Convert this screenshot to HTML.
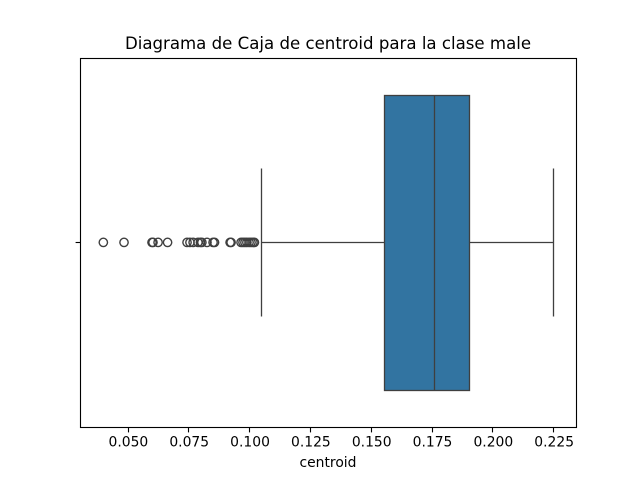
<!DOCTYPE html>
<html><head><meta charset="utf-8"><style>
html,body{margin:0;padding:0;background:#fff;width:640px;height:480px;overflow:hidden}
svg{display:block}
text{font-family:"DejaVu Sans",sans-serif;fill:#000}
</style></head>
<body>
<svg id="chart" width="640" height="480" viewBox="0 0 640 480" xmlns="http://www.w3.org/2000/svg">
<text x="328" y="49" font-size="16.6" text-anchor="middle">Diagrama de Caja de centroid para la clase male</text>
<text x="328" y="467" font-size="13.89" text-anchor="middle">centroid</text>
<g id="marks"></g>
<g id="axes"></g>
</svg>
<script>
const tickValues = [0.05, 0.075, 0.1, 0.125, 0.15, 0.175, 0.2, 0.225];
const tickLabels = ['0.050', '0.075', '0.100', '0.125', '0.150', '0.175', '0.200', '0.225'];
const q1 = [0.1552];
const median = [0.1758];
const q3 = [0.1902];
const whiskerLow = [0.1047];
const whiskerHigh = [0.2247];
const outliers = [0.0397, 0.0482, 0.0597, 0.0601, 0.0622, 0.0661, 0.0741, 0.0753, 0.0766, 0.0786, 0.0796, 0.0802, 0.0823, 0.0848, 0.0854, 0.0918, 0.0922, 0.0963, 0.0971, 0.0979, 0.0987, 0.0996, 0.1004, 0.1012, 0.1018];

const NS = 'http://www.w3.org/2000/svg';
const plot = { left: 80, right: 576, top: 57.6, bottom: 427.2 };
function xScale(v) { return 128.4 + (v - 0.05) * 2433; }
function yScale(p) { return (plot.top + plot.bottom) / 2 + p * (plot.bottom - plot.top); }
function snap(px) { return Math.floor(px) + 0.5; }
function snapY(px) { return Math.round(px) + 0.5; }
function make(parent, tag, attrs) {
  const el = document.createElementNS(NS, tag);
  for (const k in attrs) el.setAttribute(k, attrs[k]);
  parent.appendChild(el);
  return el;
}
const marks = document.getElementById('marks');
const axes = document.getElementById('axes');
const LINE = '#3f3f3f';
const LW = 1.3;
const yMid = snap(yScale(0));
const yBoxTop = snapY(yScale(-0.4));
const yBoxBottom = snap(yScale(0.4));
const yCapTop = snap(yScale(-0.2));
const yCapBottom = snap(yScale(0.2));

const whiskerLeft = make(marks, 'line', { x1: snap(xScale(whiskerLow[0])), x2: snap(xScale(q1[0])), y1: yMid, y2: yMid, stroke: LINE, 'stroke-width': LW });


const whiskerRight = make(marks, 'line', { x1: snap(xScale(q3[0])), x2: snap(xScale(whiskerHigh[0])), y1: yMid, y2: yMid, stroke: LINE, 'stroke-width': LW });


const capLow = make(marks, 'line', { x1: snap(xScale(whiskerLow[0])), x2: snap(xScale(whiskerLow[0])), y1: yCapTop, y2: yCapBottom, stroke: LINE, 'stroke-width': LW });


const capHigh = make(marks, 'line', { x1: snap(xScale(whiskerHigh[0])), x2: snap(xScale(whiskerHigh[0])), y1: yCapTop, y2: yCapBottom, stroke: LINE, 'stroke-width': LW });


const boxLeft = snap(xScale(q1[0]));
const boxRight = snap(xScale(q3[0]));
const box = make(marks, 'rect', { x: boxLeft, y: yBoxTop, width: boxRight - boxLeft, height: yBoxBottom - yBoxTop, fill: '#3274a1', stroke: LINE, 'stroke-width': LW });


const med = make(marks, 'line', { x1: snap(xScale(median[0])), x2: snap(xScale(median[0])), y1: yBoxTop, y2: yBoxBottom, stroke: LINE, 'stroke-width': LW });


outliers.forEach(function (v) {
  const c = make(marks, 'circle', { cx: xScale(v), cy: yScale(0), r: 4.17, fill: 'none', stroke: LINE, 'stroke-width': 1.39 });
  
  
});

const frame = make(axes, 'rect', { x: 80.5, y: 58.5, width: 496, height: 369, fill: 'none', stroke: '#000', 'stroke-width': 1.11 });


const yTick = make(axes, 'line', { x1: 75.6, x2: 80, y1: yMid, y2: yMid, stroke: '#000', 'stroke-width': 1.11 });


tickValues.forEach(function (v, i) {
  const x = snap(xScale(v) - 0.4);
  const t = make(axes, 'line', { x1: x, x2: x, y1: 427.5, y2: 432.4, stroke: '#000', 'stroke-width': 1.11 });
  
  
  const l = make(axes, 'text', { x: xScale(v), y: 446.5, 'font-size': 13.89, 'text-anchor': 'middle' });
  
  
  l.textContent = tickLabels[i];
});
</script>
</body></html>
